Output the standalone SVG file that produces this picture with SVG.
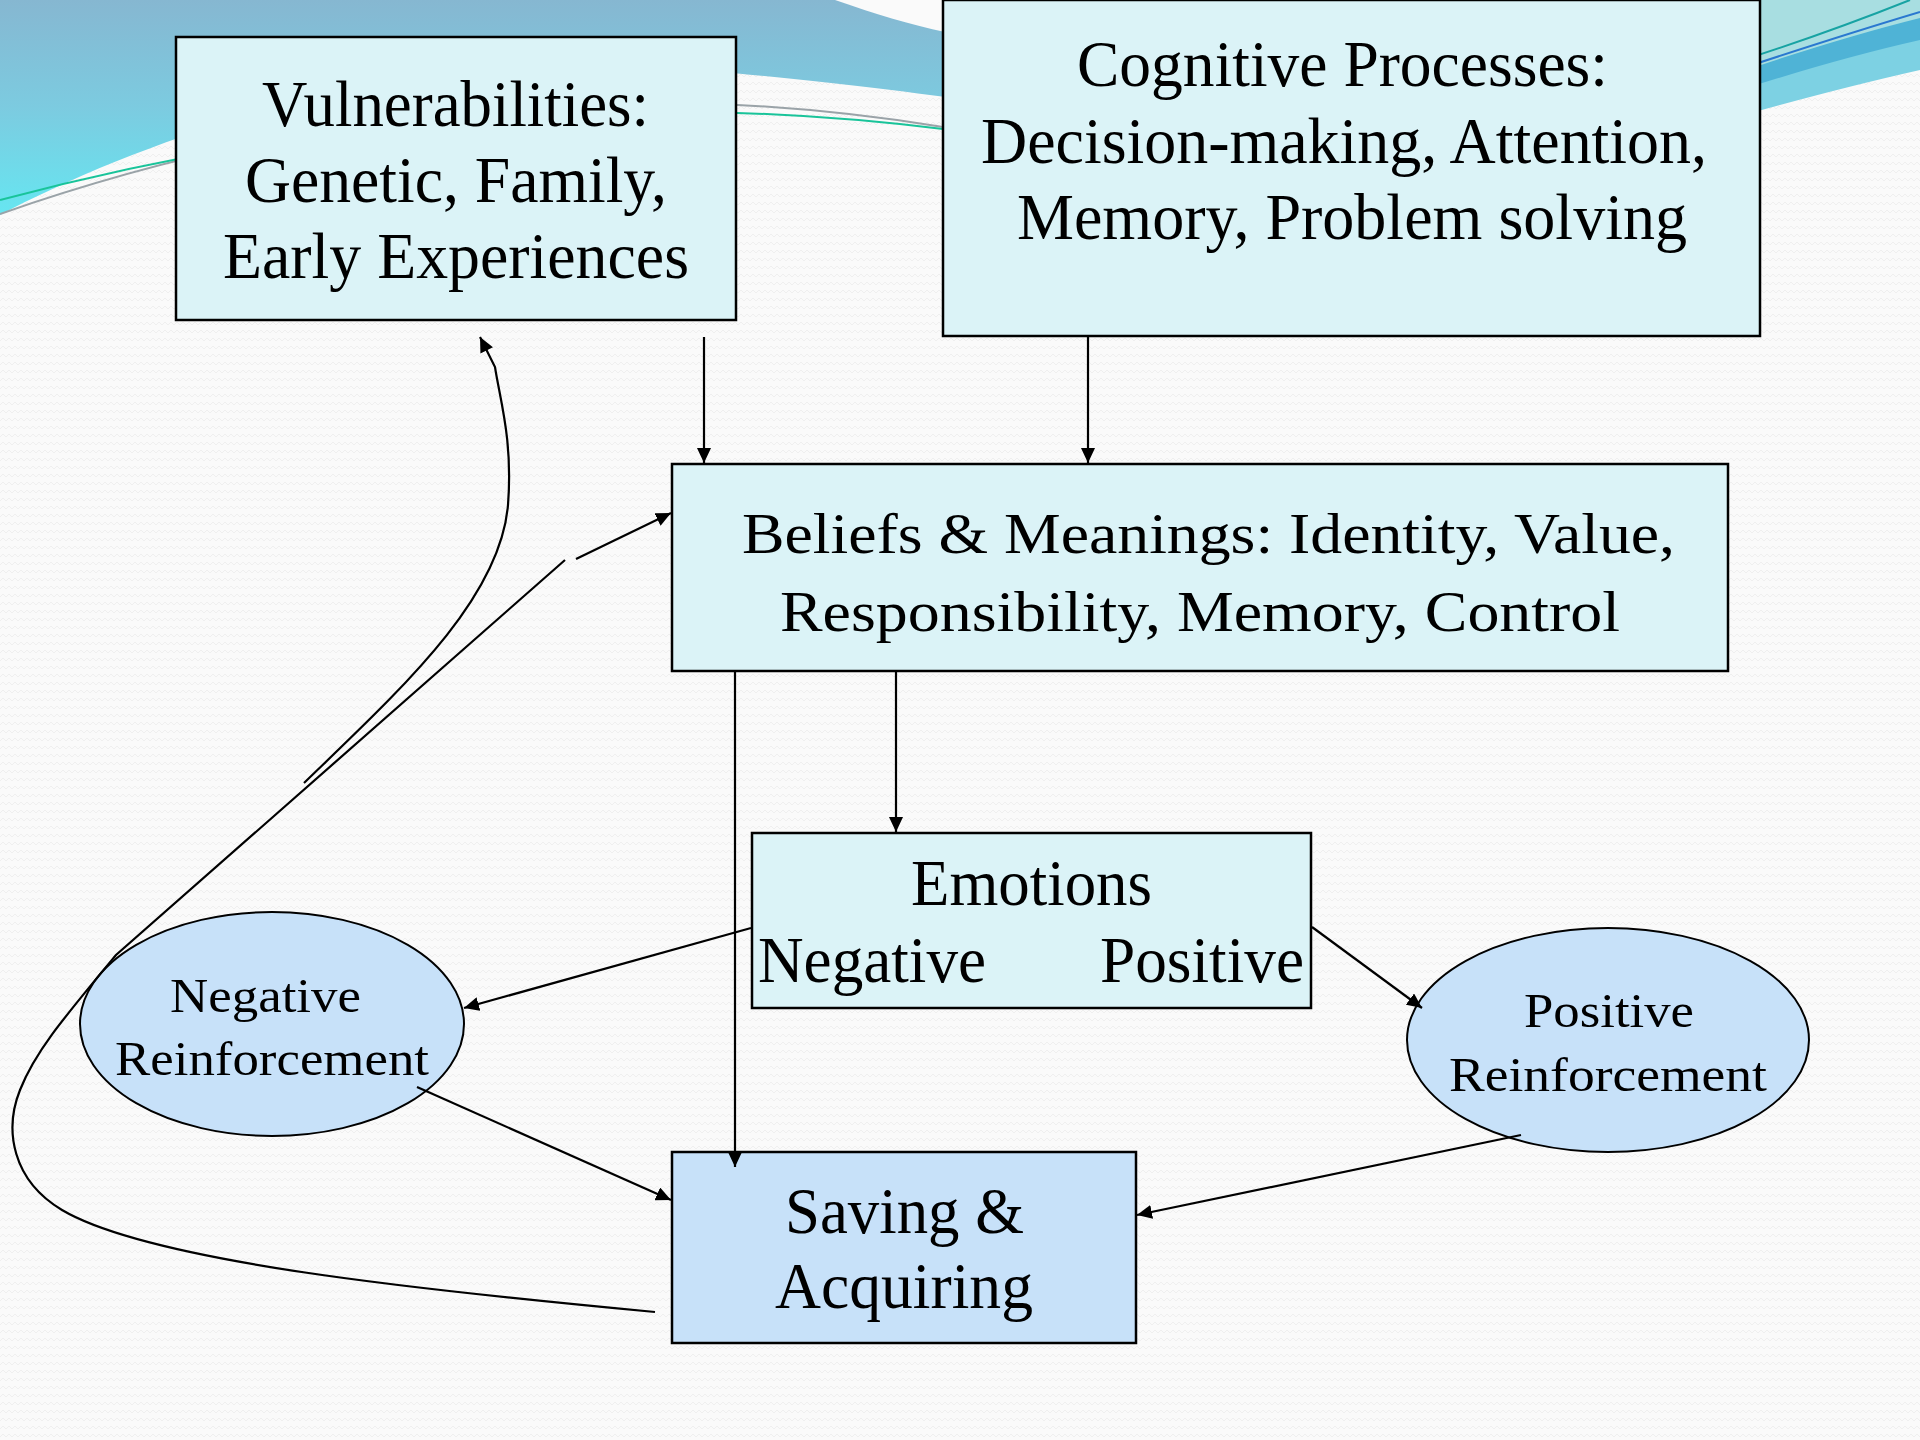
<svg xmlns="http://www.w3.org/2000/svg" width="1920" height="1440" viewBox="0 0 1920 1440">
<defs>
<pattern id="bgpat" width="6" height="8" patternUnits="userSpaceOnUse">
<rect width="6" height="8" fill="#fafafa"/>
<path d="M0 5 L3 2 L6 5" fill="none" stroke="#efefef" stroke-width="1"/>
</pattern>
<linearGradient id="swl" x1="0" y1="0" x2="0" y2="1">
<stop offset="0" stop-color="#86b7d1"/>
<stop offset="0.5" stop-color="#7ccbe0"/>
<stop offset="1" stop-color="#66e6f1"/>
</linearGradient>
<marker id="ah" markerUnits="userSpaceOnUse" markerWidth="16" markerHeight="14" refX="15" refY="7" orient="auto">
<path d="M0,0 L15,7 L0,14 Z" fill="#000"/>
</marker>
<style>
.box{fill:#dbf3f7;stroke:#000;stroke-width:2.5}
.box2{fill:#c7e1f9;stroke:#000;stroke-width:2.5}
.ell{fill:#c7e1f9;stroke:#000;stroke-width:2}
.t{font-family:"Liberation Serif","Times New Roman",serif;fill:#000}
.big{font-size:66px}
.mid{font-size:56px}
.sm{font-size:48px}
.c{fill:none;stroke:#000;stroke-width:2.2}
.ca{fill:none;stroke:#000;stroke-width:2.2;marker-end:url(#ah)}
</style>
</defs>
<g id="background">
<rect width="1920" height="1440" fill="url(#bgpat)"/>
<path d="M0 0 H1000 V105 C900 90 800 78 640 65 C420 45 150 135 0 215 Z" fill="url(#swl)"/>
<path d="M835 0 C875 14 912 25 945 32 L945 0 Z" fill="#fafafa"/>
<path d="M0 214 Q470 50 943 127" fill="none" stroke="#9aa3a8" stroke-width="2"/>
<path d="M0 200 Q480 72 943 129" fill="none" stroke="#19c49a" stroke-width="2"/>
<path d="M1740 0 H1920 V70 Q1840 88 1740 116 Z" fill="#7dd1e3"/>
<path d="M1740 0 H1920 V40 Q1840 58 1740 90 Z" fill="#4fb3d6"/>
<path d="M1740 0 H1920 V18 Q1840 38 1740 72 Z" fill="#a8dee1"/>
<path d="M1740 61 Q1830 32 1910 0" fill="none" stroke="#17a3a3" stroke-width="2"/>
<path d="M1740 69 Q1840 36 1920 12" fill="none" stroke="#2a78d0" stroke-width="2"/>
</g>
<g id="node-vulnerabilities">
<rect class="box" x="176" y="37" width="560" height="283"/>
<text class="t big" x="262" y="126" textLength="387" lengthAdjust="spacingAndGlyphs">Vulnerabilities:</text>
<text class="t big" x="245" y="202" textLength="422" lengthAdjust="spacingAndGlyphs">Genetic, Family,</text>
<text class="t big" x="223" y="278" textLength="466" lengthAdjust="spacingAndGlyphs">Early Experiences</text>
</g>
<g id="node-cognitive">
<rect class="box" x="943" y="0" width="817" height="336"/>
<text class="t big" x="1077" y="86" textLength="531" lengthAdjust="spacingAndGlyphs">Cognitive Processes:</text>
<text class="t big" x="981" y="163" textLength="726" lengthAdjust="spacingAndGlyphs">Decision-making, Attention,</text>
<text class="t big" x="1017" y="239" textLength="670" lengthAdjust="spacingAndGlyphs">Memory, Problem solving</text>
</g>
<g id="node-beliefs">
<rect class="box" x="672" y="464" width="1056" height="207"/>
<text class="t mid" x="742" y="553" textLength="933" lengthAdjust="spacingAndGlyphs">Beliefs &amp; Meanings: Identity, Value,</text>
<text class="t mid" x="780" y="631" textLength="840" lengthAdjust="spacingAndGlyphs">Responsibility, Memory, Control</text>
</g>
<g id="node-emotions">
<rect class="box" x="752" y="833" width="559" height="175"/>
<text class="t big" x="911" y="905" textLength="241" lengthAdjust="spacingAndGlyphs">Emotions</text>
<text class="t big" x="758" y="982" textLength="228" lengthAdjust="spacingAndGlyphs">Negative</text>
<text class="t big" x="1100" y="982" textLength="204" lengthAdjust="spacingAndGlyphs">Positive</text>
</g>
<g id="node-negative-reinforcement">
<ellipse class="ell" cx="272" cy="1024" rx="192" ry="112"/>
<text class="t sm" x="170" y="1012" textLength="191" lengthAdjust="spacingAndGlyphs">Negative</text>
<text class="t sm" x="115" y="1075" textLength="314" lengthAdjust="spacingAndGlyphs">Reinforcement</text>
</g>
<g id="node-positive-reinforcement">
<ellipse class="ell" cx="1608" cy="1040" rx="201" ry="112"/>
<text class="t sm" x="1524" y="1027" textLength="170" lengthAdjust="spacingAndGlyphs">Positive</text>
<text class="t sm" x="1449" y="1091" textLength="318" lengthAdjust="spacingAndGlyphs">Reinforcement</text>
</g>
<g id="node-saving">
<rect class="box2" x="672" y="1152" width="464" height="191"/>
<text class="t big" x="785" y="1233" textLength="239" lengthAdjust="spacingAndGlyphs">Saving &amp;</text>
<text class="t big" x="775" y="1308" textLength="258" lengthAdjust="spacingAndGlyphs">Acquiring</text>
</g>
<g id="connectors">
<path class="ca" d="M704 337 L704 463"/>
<path class="ca" d="M1088 337 L1088 463"/>
<path class="ca" d="M896 672 L896 832"/>
<path class="ca" d="M735 672 L735 1167"/>
<path class="ca" d="M751 928 L464 1008"/>
<path class="ca" d="M1312 927 L1422 1008"/>
<path class="ca" d="M417 1087 L671 1200"/>
<path class="ca" d="M1521 1135 L1137 1215"/>
<path class="c" d="M655 1312 C420 1290 150 1262 62 1210 C12 1180 4 1130 20 1090 C35 1052 62 1020 116 955 L565 560"/>
<path class="ca" d="M576 559 L671 513"/>
<path class="ca" d="M304 783 C400 690 500 600 508 505 C513 440 500 400 495 367 L480 337"/>
</g>
</svg>
